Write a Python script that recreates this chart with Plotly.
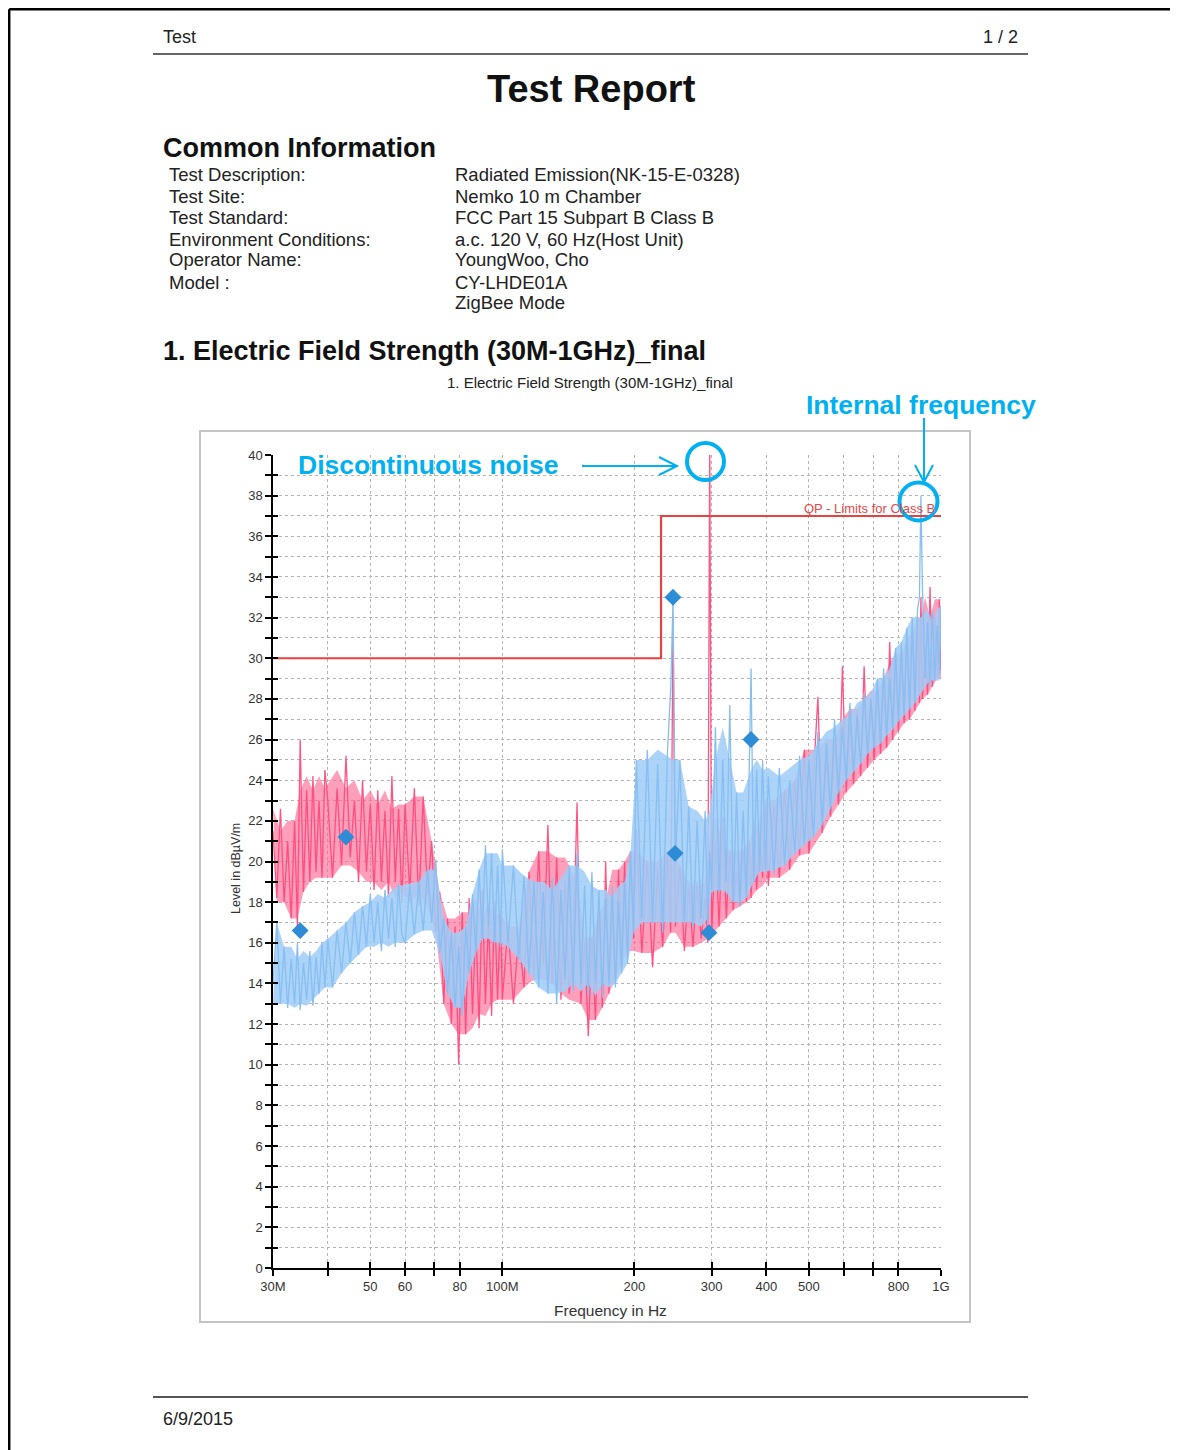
import math
import plotly.graph_objects as go

# ---------------- data ----------------
freq_mhz = [
    30.0, 30.6, 31.2, 31.8, 32.4, 33.0, 33.6, 34.1, 34.6, 35.2, 35.8, 36.4, 37.0, 37.6, 38.2, 38.8, 39.4,
    40, 41, 42, 43, 44, 45, 46, 47, 48, 49, 50, 51, 52, 53, 54, 55, 56, 57, 58, 59,
    60, 61.5, 63, 64.5, 66, 67.5, 69, 70.5, 72, 73.5, 75, 76.5, 78, 79.5, 81, 82.5, 84, 85.5, 87, 88.5,
    90, 91.5, 93, 94.5, 96, 97.5, 99,
    100, 103, 106, 109, 112, 115, 118, 121, 124, 127, 130, 133, 136, 139, 142, 145, 148, 151, 154, 157,
    160, 163, 166, 169, 172, 175, 178, 181, 184, 187, 190, 193, 196, 199,
    202, 208, 214, 220, 226, 232, 238, 242, 245, 248, 254, 260, 266, 272, 278, 284, 290, 294, 297, 300,
    306, 312, 318, 324, 330, 336, 342, 348, 354, 360, 365, 369, 374, 380, 386, 392, 398,
    404, 416, 428, 440, 452, 464, 476, 488, 500, 512, 524, 536, 548, 560, 572, 584, 596, 608, 620, 632,
    644, 656, 668, 680, 692, 704, 716, 728, 740, 752, 764, 776, 788, 800, 812, 824, 836, 848, 860, 872,
    884, 893, 900, 907, 920, 932, 944, 956, 968, 980, 992, 1000,
]

pink_level = [
    21.5, 18.2, 22.6, 18.0, 21.0, 17.2, 22.0, 16.8, 26.0, 18.5, 23.5, 19.0, 24.2, 19.5, 23.0, 19.2, 24.5,
    23.0, 19.2, 23.6, 19.8, 25.2, 20.2, 23.0, 19.0, 24.0, 19.5, 22.8, 18.6, 23.5, 19.0, 22.5, 18.2, 24.2, 19.0, 22.6, 18.0,
    22.8, 18.5, 23.6, 17.8, 23.2, 18.4, 21.0, 16.5, 18.5, 13.0, 17.2, 12.0, 16.8, 10.0, 17.5, 11.5, 18.2, 12.5, 17.0, 11.8,
    18.6, 13.0, 17.2, 12.4, 18.0, 13.2, 17.4,
    13.2, 16.8, 13.0, 16.5, 13.8, 19.5, 14.2, 20.5, 15.0, 21.8, 14.0, 20.2, 13.2, 19.0, 13.5, 15.5, 22.9, 13.0, 16.0, 11.4,
    16.3, 12.2, 17.5, 12.8, 20.0, 13.5, 18.0, 14.2, 19.6, 15.0, 20.0, 15.6, 20.5, 16.2,
    21.6, 15.5, 20.0, 14.8, 19.6, 15.8, 20.5, 16.5, 32.0, 16.8, 19.8, 15.6, 18.8, 15.8, 19.0, 16.2, 18.2, 16.0, 41.0, 16.4,
    21.0, 16.8, 22.2, 17.2, 20.5, 17.6, 19.5, 17.8, 20.6, 18.0, 21.0, 18.2, 22.0, 18.6, 21.5, 19.2, 23.0,
    18.8, 22.8, 19.2, 23.5, 19.6, 24.0, 20.3, 25.5, 20.4, 24.2, 28.1, 21.4, 25.0, 22.2, 26.0, 22.8, 29.6, 23.4, 27.0, 23.8,
    27.5, 24.2, 29.6, 24.6, 28.0, 25.0, 28.4, 25.3, 29.0, 25.6, 30.8, 26.0, 29.8, 26.4, 30.2, 26.8, 31.0, 27.0, 31.2, 27.4,
    32.0, 27.8, 33.0, 28.0, 30.5, 28.2, 33.5, 28.6, 32.0, 29.0, 32.9, 29.4,
]

blue_level = [
    14.0, 17.0, 13.0, 15.8, 12.8, 15.2, 13.0, 16.0, 12.7, 15.0, 13.2, 15.6, 12.9, 15.3, 13.5, 16.0, 13.8,
    16.2, 13.8, 16.6, 14.5, 17.0, 15.0, 17.5, 15.4, 17.8, 15.8, 18.4, 16.0, 18.0, 15.6, 18.6, 16.2, 18.2, 15.8, 18.9, 16.4,
    16.0, 18.8, 16.4, 19.0, 16.6, 19.6, 17.0, 20.1, 15.5, 17.2, 13.5, 16.5, 12.8, 15.8, 12.4, 16.8, 14.5, 18.4, 15.5, 19.6,
    16.2, 20.8, 16.8, 20.4, 16.0, 19.8, 15.8,
    20.6, 16.0, 19.8, 15.2, 19.3, 14.5, 19.0, 13.8, 18.5, 13.5, 19.2, 13.0, 18.6, 14.2, 19.8, 13.6, 20.4, 14.0, 18.8, 13.4,
    19.5, 14.0, 18.6, 13.3, 18.2, 14.0, 18.8, 13.8, 18.0, 14.5, 19.0, 15.0, 20.5, 16.5,
    25.0, 17.2, 25.5, 17.0, 24.8, 16.5, 25.5, 28.5, 33.0, 20.0, 25.0, 17.0, 22.7, 16.8, 22.0, 17.2, 22.5, 16.6, 20.5, 18.6,
    26.6, 18.5, 25.0, 19.0, 27.7, 18.0, 23.4, 17.8, 22.5, 18.2, 24.0, 29.5, 19.0, 24.5, 19.5, 25.0, 19.6,
    24.2, 19.4, 24.6, 19.8, 24.0, 20.4, 25.2, 20.8, 25.0, 21.2, 26.4, 21.8, 25.8, 22.6, 27.0, 23.4, 26.6, 24.0, 27.8, 24.4,
    27.2, 24.8, 28.3, 25.3, 28.0, 25.6, 29.0, 25.8, 29.5, 26.2, 29.0, 26.5, 30.5, 26.9, 30.8, 27.2, 31.5, 27.5, 32.0, 27.8,
    32.4, 33.0, 38.0, 33.5, 29.0, 31.8, 28.6, 32.4, 28.9, 31.6, 29.2, 32.6,
]

final_freq_mhz = [34.6, 44.0, 244.9, 247.6, 295.8, 368.8]
final_level = [16.6, 21.2, 33.0, 20.4, 16.5, 26.0]

limit_freq_mhz = [30, 230, 1000]
limit_level = [30, 37, 37]

x_tick_mhz = [30, 40, 50, 60, 70, 80, 100, 200, 300, 400, 500, 600, 700, 800, 1000]
x_tick_text = ["30M", "", "50", "60", "", "80", "100M", "200", "300", "400", "500", "", "", "800", "1G"]

info_labels = ["Test Description:", "Test Site:", "Test Standard:", "Environment Conditions:",
               "Operator Name:", "Model :"]
info_values = ["Radiated Emission(NK-15-E-0328)", "Nemko 10 m Chamber", "FCC Part 15 Subpart B Class B",
               "a.c. 120 V, 60 Hz(Host Unit)", "YoungWoo, Cho", "CY-LHDE01A", "ZigBee Mode"]

# ---------------- helpers ----------------
W, H = 1178, 1450
OFF = 8  # the page body margin shifts the figure by 8 px


def X(p):
    return (p - OFF) / W


def Y(p):
    return 1 - (p - OFF) / H


FONT = "Liberation Sans, Arial, Helvetica, sans-serif"
CYAN = "#00b0f0"
GRID = "#b4b4b4"
GDASH = "3px,3px"


def hz(lst):
    return [v * 1e6 for v in lst]


def envelope(freqs, vals, upper):
    """Band edge through the local extrema of a noisy trace (isolated spikes removed)."""
    n = len(vals)
    idx = []
    for i in range(n):
        ok = True
        for j in (i - 1, i + 1):
            if 0 <= j < n:
                if upper and vals[i] < vals[j]:
                    ok = False
                if not upper and vals[i] > vals[j]:
                    ok = False
        if ok:
            idx.append(i)
    ys = [vals[i] for i in idx]
    sm = []
    for k in range(len(ys)):
        w = sorted(ys[max(0, k - 1):k + 2])
        sm.append(w[len(w) // 2] if len(w) == 3 else (w[-1] if upper else w[0]))
    return [freqs[i] * 1e6 for i in idx], sm


fig = go.Figure()


def band(vals, fill):
    lx, ly = envelope(freq_mhz, vals, upper=False)
    ux, uy = envelope(freq_mhz, vals, upper=True)
    fig.add_trace(go.Scatter(x=lx, y=ly, mode="lines", line=dict(width=0, color=fill),
                             showlegend=False, hoverinfo="skip"))
    fig.add_trace(go.Scatter(x=ux, y=uy, mode="lines", line=dict(width=0, color=fill),
                             fill="tonexty", fillcolor=fill, showlegend=False, hoverinfo="skip"))


band(pink_level, "rgba(255,100,145,0.62)")
fig.add_trace(go.Scatter(x=hz(freq_mhz), y=pink_level, mode="lines",
                         line=dict(color="rgba(255,75,125,0.95)", width=1.3),
                         showlegend=False, hoverinfo="skip"))
band(blue_level, "rgba(160,205,247,0.88)")
fig.add_trace(go.Scatter(x=hz(freq_mhz), y=blue_level, mode="lines",
                         line=dict(color="rgba(135,190,243,1)", width=1.3),
                         showlegend=False, hoverinfo="skip"))
fig.add_trace(go.Scatter(x=hz(limit_freq_mhz), y=limit_level, mode="lines",
                         line=dict(color="#e8413f", width=2.2, shape="hv"),
                         showlegend=False, hoverinfo="skip"))
fig.add_trace(go.Scatter(x=hz(final_freq_mhz), y=final_level, mode="markers",
                         marker=dict(symbol="diamond", size=13, color="#2e8bd6"),
                         showlegend=False, hoverinfo="skip"))
fig.add_trace(go.Scatter(x=[], y=[], xaxis="x2", yaxis="y2", showlegend=False, hoverinfo="skip"))

xrange_ = [math.log10(30e6), 9]
tickfont = dict(family=FONT, size=13, color="#333333")

fig.update_layout(
    width=W, height=H, margin=dict(l=0, r=0, t=0, b=0, pad=0, autoexpand=False),
    paper_bgcolor="white", plot_bgcolor="white",
    xaxis=dict(type="log", domain=[X(273), X(941)], range=xrange_, anchor="y",
               tickmode="array", tickvals=hz(x_tick_mhz), ticktext=x_tick_text,
               ticks="outside", ticklen=6, tickwidth=1.5, tickcolor="black",
               showline=True, linecolor="black", linewidth=1.5,
               showgrid=True, gridcolor=GRID, griddash=GDASH, gridwidth=1,
               zeroline=False, tickfont=tickfont, fixedrange=True, automargin=False),
    yaxis=dict(domain=[Y(1268), Y(455)], range=[0, 40], anchor="x",
               tickmode="linear", tick0=0, dtick=2,
               ticks="outside", ticklen=6, tickwidth=1.5, tickcolor="black",
               showline=True, linecolor="black", linewidth=1.5,
               showgrid=True, gridcolor=GRID, griddash=GDASH, gridwidth=1,
               minor=dict(tick0=0, dtick=1, ticks="outside", ticklen=6, tickwidth=1.5,
                          tickcolor="black", showgrid=True, gridcolor=GRID,
                          griddash=GDASH, gridwidth=1),
               zeroline=False, tickfont=tickfont, fixedrange=True, automargin=False),
    xaxis2=dict(type="log", overlaying="x", anchor="y", range=xrange_,
                tickmode="array", tickvals=hz(x_tick_mhz),
                ticks="inside", ticklen=6, tickwidth=1.5, tickcolor="black",
                showticklabels=False, showgrid=False, showline=False, zeroline=False),
    yaxis2=dict(overlaying="y", anchor="x", side="left", range=[0, 40],
                tickmode="linear", tick0=0, dtick=2,
                ticks="inside", ticklen=5, tickwidth=1.5, tickcolor="black",
                minor=dict(tick0=0, dtick=1, ticks="inside", ticklen=5, tickwidth=1.5,
                           tickcolor="black"),
                showticklabels=False, showgrid=False, showline=False, zeroline=False),
)

ann = []
PADX = 2  # annotation box padding compensation


def txt(text, x, y, size, color="#222222", xanchor="left", yanchor="middle", **kw):
    if xanchor == "left":
        x -= PADX
    elif xanchor == "right":
        x += PADX
    ann.append(dict(text=text, x=X(x), y=Y(y), xref="paper", yref="paper", xanchor=xanchor,
                    yanchor=yanchor, showarrow=False, font=dict(family=FONT, size=size, color=color), **kw))


txt("Test", 163, 37, 18)
txt("1 / 2", 1018, 37, 18, xanchor="right")
txt("<b>Test Report</b>", 591, 89, 38, color="#111111", xanchor="center")
txt("<b>Common Information</b>", 163, 148, 27, color="#111111")
rows = [175, 196, 217, 239, 260, 282, 303]
for lab, yy in zip(info_labels, rows):
    txt(lab, 169, yy, 18.5)
for val, yy in zip(info_values, rows):
    txt(val, 455, yy, 18.5)
txt("<b>1. Electric Field Strength (30M-1GHz)_final</b>", 163, 351, 27, color="#111111")
txt("1. Electric Field Strength (30M-1GHz)_final", 590, 383, 15, xanchor="center")
txt("Level in dBµV/m", 236, 869, 12.5, color="#333333", xanchor="center", textangle=-90)
txt("Frequency in Hz", 610, 1310, 15.5, color="#333333", xanchor="center")
txt("QP - Limits for Class B", 935, 508, 13, color="#e8474a", xanchor="right")
txt("<b>Discontinuous noise</b>", 298, 465, 26.5, color=CYAN)
txt("<b>Internal frequency</b>", 806, 405, 26.5, color=CYAN)
txt("6/9/2015", 163, 1419, 18)

shapes = []


def path(d, color, width):
    shapes.append(dict(type="path", xref="paper", yref="paper", path=d,
                       line=dict(color=color, width=width)))


def P(x, y):
    return f"{X(x):.6f},{Y(y):.6f}"


# outer border of the page (as close to the page edge as the body margin allows)
path(f"M{P(9.2, 9.2)} L{P(1186, 9.2)} M{P(9.2, 9.2)} L{P(9.2, 1458)}", "black", 2.5)
# header / footer rules
path(f"M{P(153, 54)} L{P(1028, 54)}", "#333333", 1.6)
path(f"M{P(153, 1397)} L{P(1028, 1397)}", "#555555", 2)
# chart frame
shapes.append(dict(type="rect", xref="paper", yref="paper", x0=X(200), x1=X(970), y0=Y(1322), y1=Y(431),
                   line=dict(color="#c4c4c4", width=2), fillcolor="rgba(0,0,0,0)", layer="below"))
# annotation circles
for cx, cy, r in [(705.5, 461.5, 18.5), (918.5, 501.5, 19)]:
    shapes.append(dict(type="circle", xref="paper", yref="paper", x0=X(cx - r), x1=X(cx + r),
                       y0=Y(cy + r), y1=Y(cy - r), line=dict(color=CYAN, width=4)))
# arrows
path(f"M{P(582, 466)} L{P(676, 466)} M{P(659, 457)} L{P(677, 466)} L{P(659, 475)}", CYAN, 2)
path(f"M{P(924, 418)} L{P(924, 481)} M{P(915, 465)} L{P(924, 482)} L{P(933, 465)}", CYAN, 2)

fig.update_layout(annotations=ann, shapes=shapes)

fig.write_html("out.html", config={"displayModeBar": False})
